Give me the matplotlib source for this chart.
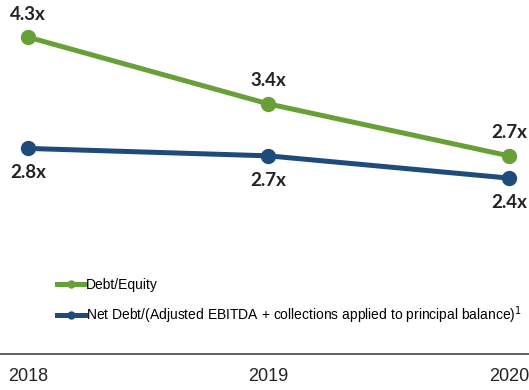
import matplotlib.pyplot as plt

years = ['2018', '2019', '2020']
debt_equity = [4.3, 3.4, 2.7]
net_debt = [2.8, 2.7, 2.4]

GREEN = '#68a038'
BLUE = '#1f4a7c'

fig = plt.figure(figsize=(5.29, 3.9), dpi=100)
ax = fig.add_axes([0, 36 / 390, 1, 354 / 390])
x = list(range(len(years)))

ax.plot(x, debt_equity, color=GREEN, lw=3.6, marker='o', ms=10,
        label='Debt/Equity')
ax.plot(x, net_debt, color=BLUE, lw=3.6, marker='o', ms=10,
        label='Net Debt/(Adjusted EBITDA + collections applied to principal balance)$^{1}$')

for i, v in enumerate(debt_equity):
  ax.annotate(f'{v:.1f}x', (i, v), xytext=(0, 10.5), textcoords='offset points',
              ha='center', va='bottom', fontsize=13.5, fontweight='bold',
              family='Lato', color='#222222')
for i, v in enumerate(net_debt):
  ax.annotate(f'{v:.1f}x', (i, v), xytext=(0, -11.5), textcoords='offset points',
              ha='center', va='top', fontsize=13.5, fontweight='bold',
              family='Lato', color='#222222')

ax.set_xlim(-0.116, 2.083)
ax.set_ylim(0.03, 4.80)
ax.set_xticks(x)
ax.set_xticklabels(years, fontsize=13, family='Liberation Sans', color='#222222')
ax.tick_params(axis='x', length=0, pad=10)
ax.set_yticks([])
for s in ['top', 'left', 'right']:
  ax.spines[s].set_visible(False)
ax.spines['bottom'].set_color('#444444')
ax.spines['bottom'].set_linewidth(1.2)

leg = ax.legend(loc='lower left', bbox_to_anchor=(0.085, 0.045), frameon=False,
                prop={'family': 'Liberation Sans', 'size': 10},
                handlelength=2.0, handletextpad=0.05, labelspacing=0.85)
for h in leg.legend_handles:
  h.set_markersize(5)

plt.savefig('out.png', dpi=100)
